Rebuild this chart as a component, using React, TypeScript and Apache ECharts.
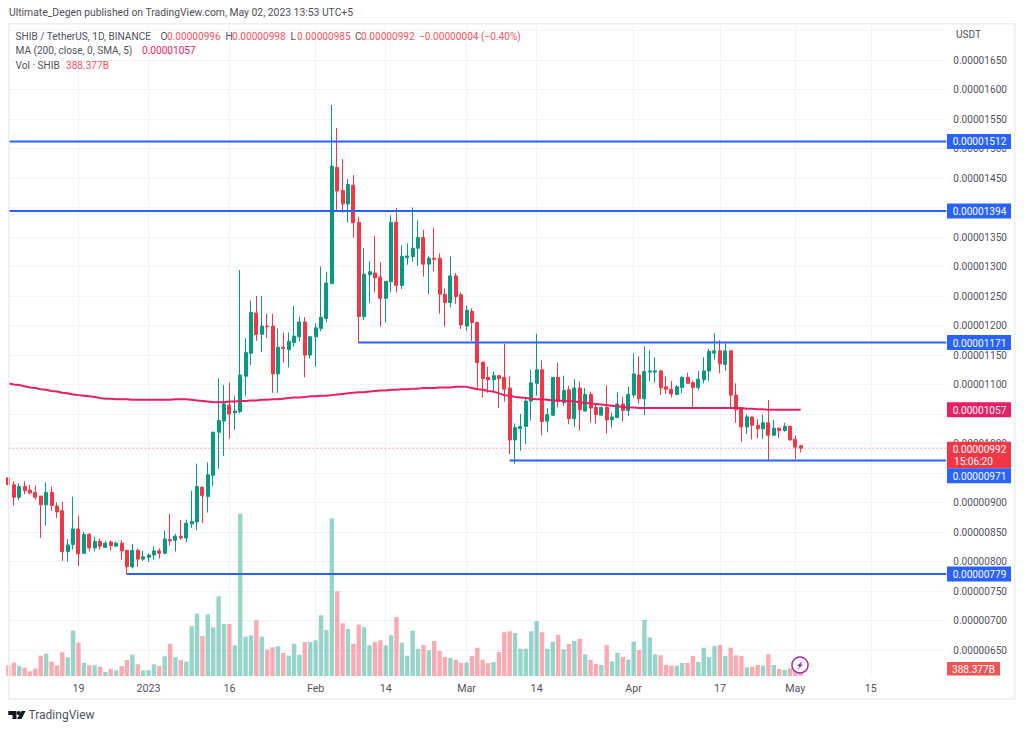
import React, { useEffect, useRef } from "react";
import * as echarts from "echarts";

const opens = [
  942,930,909,927,921,917,911,896,917,894,
  886,817,829,855,814,846,823,834,824,833,
  826,831,819,791,819,804,807,811,818,814,
  837,836,843,840,864,867,926,910,946,1019,
  1038,1065,1052,1054,1114,1153,1221,1185,1199,1199,
  1118,1163,1159,1171,1181,1206,1150,1181,1195,1212,
  1271,1468,1429,1406,1438,1375,1215,1286,1289,1282,
  1246,1274,1375,1268,1315,1317,1331,1349,1304,1314,
  1314,1253,1239,1284,1252,1199,1224,1205,1138,1112,
  1108,1115,1112,1094,1006,1025,1029,1072,1102,1125,
  1038,1048,1112,1069,1091,1042,1094,1055,1083,1061,
  1048,1061,1040,1044,1067,1056,1082,1116,1076,1121,
  1121,1123,1096,1092,1083,1095,1112,1103,1095,1108,
  1123,1153,1157,1134,1157,1082,1060,1028,1045,1031,
  1025,1035,1014,1026,1022,1029,1007,996,
];
const closes = [
  930,909,927,920,916,909,896,917,895,884,
  817,828,855,813,846,823,834,826,831,827,
  831,818,791,819,804,808,811,818,814,838,
  835,843,840,865,868,927,912,947,1019,1039,
  1067,1050,1055,1116,1154,1222,1185,1199,1198,1118,
  1163,1161,1173,1182,1206,1150,1181,1196,1214,1272,
  1470,1428,1406,1439,1374,1215,1287,1291,1281,1246,
  1275,1375,1268,1317,1318,1331,1349,1304,1314,1312,
  1253,1239,1284,1249,1201,1226,1205,1137,1110,1108,
  1115,1110,1092,1006,1027,1029,1072,1103,1125,1037,
  1049,1112,1071,1090,1042,1094,1057,1083,1060,1049,
  1061,1040,1045,1067,1056,1083,1118,1076,1122,1123,
  1123,1094,1092,1084,1096,1112,1102,1095,1109,1123,
  1156,1157,1135,1157,1082,1057,1028,1045,1031,1025,
  1035,1014,1026,1022,1029,1006,994,992,
];
const lows = [
  926,895,904,914,914,905,840,861,886,874,
  801,800,820,792,813,817,817,820,823,818,
  825,803,778,788,791,801,799,803,805,812,
  827,817,837,832,857,853,865,883,928,957,
  979,1008,1024,1051,1081,1133,1174,1155,1179,1086,
  1086,1137,1129,1164,1173,1112,1144,1130,1190,1205,
  1270,1393,1391,1375,1349,1170,1209,1238,1256,1198,
  1205,1257,1256,1262,1303,1308,1301,1283,1253,1292,
  1220,1198,1231,1237,1194,1191,1174,1091,1078,1086,
  1086,1060,1071,982,966,988,999,1039,1081,1014,
  1019,1047,1061,1064,1033,1028,1022,1054,1035,1034,
  1048,1017,1027,1043,1038,1047,1077,1068,1048,1106,
  1103,1082,1084,1078,1082,1085,1101,1060,1091,1102,
  1106,1142,1119,1123,1061,1035,1003,1016,1007,1009,
  1008,972,1013,1009,1020,1005,973,985,
];
const highs = [
  945,936,933,936,930,929,911,934,927,900,
  901,838,910,878,850,848,842,839,835,836,
  834,836,820,830,822,818,814,826,822,852,
  881,847,870,871,920,966,927,968,1020,1110,
  1099,1103,1081,1294,1178,1242,1250,1250,1220,1220,
  1195,1188,1188,1233,1215,1214,1181,1204,1300,1291,
  1574,1535,1482,1448,1455,1384,1331,1309,1352,1307,
  1275,1387,1399,1336,1339,1400,1378,1362,1318,1366,
  1322,1263,1317,1289,1256,1234,1229,1207,1138,1130,
  1122,1115,1169,1114,1034,1050,1079,1125,1186,1141,
  1060,1112,1137,1115,1098,1109,1105,1094,1088,1068,
  1063,1099,1052,1087,1079,1096,1153,1148,1164,1158,
  1146,1125,1114,1106,1099,1114,1120,1106,1123,1146,
  1160,1187,1175,1170,1157,1102,1060,1049,1045,1041,
  1049,1074,1040,1027,1035,1030,1014,998,
];
const volumes = [
  1070,1330,1000,830,470,730,2030,2230,1430,1070,
  2370,1870,4530,3330,1330,1070,1070,930,400,730,
  570,1000,1600,2130,1170,570,570,1170,1000,1970,
  3230,1870,1600,1430,4970,6230,4000,6170,4870,7970,
  5200,5200,3070,16230,3930,4070,5570,3930,2630,2870,
  2970,2300,2030,3230,2130,3400,3400,3570,6070,4600,
  15770,8470,5270,4700,3230,5130,4870,3070,3400,3570,
  3070,4070,5900,3330,2030,4530,2730,3100,2570,3500,
  2500,1900,1800,1630,1300,1370,2000,2830,1630,1300,
  1400,2400,4370,4470,4300,2730,2730,4470,5500,4370,
  2730,3430,4130,2670,3200,3500,3700,2170,1630,1200,
  1100,3100,1470,2330,1900,1630,3430,2600,5600,3870,
  2170,2070,1100,1030,1030,1300,1300,2000,1400,2830,
  1900,3000,3100,2000,2830,2070,2000,870,930,1100,
  1030,2170,1100,700,600,770,500,388,
];
const ma200 = [
  1102,1100,1099,1097,1095,1094,1092,1091,1089,1088,
  1086,1085,1083,1082,1081,1080,1079,1077,1076,1076,
  1075,1075,1075,1074,1074,1074,1074,1074,1074,1074,
  1074,1075,1075,1075,1074,1073,1072,1071,1070,1070,
  1070,1071,1071,1072,1072,1073,1073,1074,1074,1075,
  1075,1076,1077,1078,1078,1079,1080,1080,1081,1081,
  1082,1083,1084,1085,1086,1087,1087,1088,1089,1090,
  1090,1091,1091,1092,1092,1093,1093,1094,1094,1094,
  1095,1095,1095,1096,1096,1096,1094,1092,1091,1089,
  1088,1085,1082,1081,1079,1078,1077,1076,1075,1075,
  1074,1073,1073,1072,1072,1071,1070,1069,1068,1067,
  1066,1065,1064,1063,1062,1061,1061,1060,1060,1060,
  1060,1060,1060,1060,1060,1060,1060,1060,1060,1060,
  1060,1060,1060,1060,1060,1060,1060,1059,1059,1058,
  1058,1057,1057,1057,1057,1057,1057,1057,
];
// horizontal drawings: level (1e-8 USDT) and the candle they start from
const levelValues = [1512, 1394, 1171, 971, 779];
const levelStarts = [0, 0, 65, 93, 22];
const lastPrice = 992;
// tick values that the reference covers entirely with a price flag
const hiddenTickLabels = [1700, 1400, 1050, 950];
const tickIndexes = [13, 26, 41, 57, 70, 85, 98, 116, 132, 146, 160];
const tickLabels = ["19", "2023", "16", "Feb", "14", "Mar", "14", "Apr", "17", "May", "15"];
const categories = Array.from({ length: 175 }, (_, i) =>
  new Date(Date.UTC(2022, 11, 6 + i)).toISOString().slice(0, 10)
);

const FONT = 'Roboto, sans-serif';
const SIZE = 10.1;
const GREEN = "#089981";
const RED = "#f23645";
const BLUE = "#2962ff";
const TEXT = "#50535e";
const GRID = "#f0f3fa";
const FRAME = "#eceef5";

const txt = (x: number, y: number, text: string, fill: string, size = SIZE, align = "left") => ({
  type: "text",
  z: 110,
  silent: true,
  style: { x, y, text, fill, font: `${size}px ${FONT}`, textAlign: align, textVerticalAlign: "middle" },
});
const box = (x: number, y: number, width: number, height: number, fill: string) => ({
  type: "rect",
  z: 100,
  silent: true,
  shape: { x, y, width, height },
  style: { fill },
});

export default function App() {
  const ref = useRef<HTMLDivElement>(null);
  useEffect(() => {
    const chart = echarts.init(ref.current!, undefined, { renderer: "svg" });
    const grid = { left: 8.4, width: 937.86 };
    const levelSeries = levelValues.map((v, k) => ({
      type: "line",
      xAxisIndex: 0,
      yAxisIndex: 0,
      z: 6,
      showSymbol: false,
      silent: true,
      lineStyle: { color: BLUE, width: 2 },
      data: categories.map((_, i) => (i >= levelStarts[k] ? v : null)),
    }));
    chart.setOption({
      animation: false,
      backgroundColor: "#ffffff",
      textStyle: { fontFamily: FONT },
      grid: [
        { ...grid, top: 30.5, height: 619.5 },
        { ...grid, top: 476, height: 200 },
        { ...grid, top: 23, height: 652 },
      ],
      xAxis: [0, 1, 2].map((g) => ({
        type: "category",
        gridIndex: g,
        data: categories,
        boundaryGap: false,
        axisLine: { show: false },
        axisTick: { show: false },
        axisLabel:
          g === 2
            ? {
                show: true,
                color: TEXT,
                fontSize: SIZE + 0.6,
                fontFamily: FONT,
                margin: 8,
                hideOverlap: false,
                interval: (i: number) => tickIndexes.includes(i),
                formatter: (_: string, i: number) => tickLabels[tickIndexes.indexOf(i)] ?? "",
              }
            : { show: false },
        splitLine:
          g === 2
            ? {
                show: true,
                interval: (i: number) => tickIndexes.includes(i),
                lineStyle: { color: GRID, width: 1 },
              }
            : { show: false },
      })),
      yAxis: [
        {
          type: "value",
          gridIndex: 0,
          position: "right",
          min: 650,
          max: 1700,
          interval: 50,
          axisLine: { show: false },
          axisTick: { show: false },
          axisLabel: {
            color: TEXT,
            fontSize: SIZE,
            fontFamily: FONT,
            margin: 7,
            formatter: (v: number) =>
              hiddenTickLabels.includes(v) ? "" : "0." + String(v).padStart(8, "0"),
          },
          splitLine: { show: true, lineStyle: { color: GRID, width: 1 } },
        },
        { type: "value", gridIndex: 1, min: 0, max: 20000, show: false, splitLine: { show: false } },
        { type: "value", gridIndex: 2, min: 0, max: 1, show: false, splitLine: { show: false } },
      ],
      series: [
        {
          type: "bar",
          name: "Vol",
          xAxisIndex: 1,
          yAxisIndex: 1,
          barWidth: 4.4,
          silent: true,
          z: 1,
          data: volumes.map((v, i) => ({
            value: v,
            itemStyle: {
              color: closes[i] >= opens[i] ? "rgba(8,153,129,0.42)" : "rgba(242,54,69,0.42)",
            },
          })),
        },
        {
          type: "candlestick",
          name: "SHIB",
          xAxisIndex: 0,
          yAxisIndex: 0,
          barWidth: 3.5,
          z: 3,
          silent: true,
          itemStyle: {
            color: GREEN,
            color0: RED,
            borderColor: GREEN,
            borderColor0: RED,
            borderWidth: 1,
          },
          data: opens.map((o, i) => [o, closes[i], lows[i], highs[i]]),
        },
        {
          type: "line",
          name: "MA",
          xAxisIndex: 0,
          yAxisIndex: 0,
          z: 4,
          showSymbol: false,
          silent: true,
          lineStyle: { color: "#e91e63", width: 2 },
          data: ma200,
        },
        {
          type: "line",
          name: "Last",
          xAxisIndex: 0,
          yAxisIndex: 0,
          z: 2,
          showSymbol: false,
          silent: true,
          lineStyle: { color: "rgba(242,54,69,0.5)", width: 1, type: [2, 2] },
          data: categories.map(() => lastPrice),
        },
        ...levelSeries,
      ],
    });

    const y = (v: number) => chart.convertToPixel({ yAxisIndex: 0 }, v) as number;
    const priceText = (v: number) => "0." + String(v).padStart(8, "0");
    const flag = (v: number, color: string, at = y(v)) => [
      box(947, at - 7.5, 64, 15, color),
      txt(979.5, at + 0.5, priceText(v), "#ffffff", SIZE, "center"),
    ];
    const lastY = y(lastPrice);
    chart.setOption({
      graphic: [
        box(8, 23, 1.5, 677, FRAME),
        box(8, 23, 1007, 1.5, FRAME),
        box(1014, 23, 1.5, 677, FRAME),
        box(8, 698.5, 1007, 1.5, FRAME),
        txt(9, 12.5, "Ultimate_Degen published on TradingView.com, May 02, 2023 13:53 UTC+5", "#4e5058", 10.35),
        txt(15.5, 36, "SHIB / TetherUS, 1D, BINANCE", TEXT),
        txt(160.5, 36, "O", TEXT),
        txt(167, 36, "0.00000996", "#f7525f"),
        txt(225.5, 36, "H", TEXT),
        txt(232, 36, "0.00000998", "#f7525f"),
        txt(290.5, 36, "L", TEXT),
        txt(297, 36, "0.00000985", "#f7525f"),
        txt(355, 36, "C", TEXT),
        txt(361, 36, "0.00000992", "#f7525f"),
        txt(419, 36, "\u22120.00000004 (\u22120.40%)", "#f7525f"),
        txt(15.5, 50.5, "MA (200, close, 0, SMA, 5)", TEXT),
        txt(142, 50.5, "0.00001057", "#e91e63"),
        txt(15.5, 65, "Vol \u00b7 SHIB", TEXT),
        txt(66, 65, "388.377B", "#f7525f"),
        txt(956, 34.5, "USDT", TEXT),
        ...flag(1512, BLUE),
        ...flag(1394, BLUE),
        ...flag(1171, BLUE),
        ...flag(1057, "#e91e63"),
        box(947, lastY - 6.5, 64, 26.5, RED),
        txt(979.5, lastY + 1, priceText(lastPrice), "#ffffff", SIZE, "center"),
        txt(954, lastY + 13, "15:06:20", "#ffffff"),
        ...flag(971, BLUE, lastY + 27.5),
        ...flag(779, BLUE),
        box(947, 662, 53, 13.5, "#f05555"),
        txt(973.5, 669, "388.377B", "#ffffff", SIZE, "center"),
        {
          type: "circle",
          z: 100,
          silent: true,
          shape: { cx: 800, cy: 665, r: 8 },
          style: { fill: "#ffffff", stroke: "#9c27b0", lineWidth: 1.5 },
        },
        {
          type: "polygon",
          z: 101,
          silent: true,
          shape: { points: [[803, 660.5], [797, 666], [799.5, 666], [797.5, 669.5], [803, 664.5], [800.5, 664.5]] },
          style: { fill: "#9c27b0" },
        },
        {
          type: "polygon",
          z: 100,
          silent: true,
          shape: { points: [[8.3, 711], [16.5, 711], [16.5, 719], [12.5, 719], [12.5, 715], [8.3, 715]] },
          style: { fill: "#131722" },
        },
        { type: "circle", z: 100, silent: true, shape: { cx: 18.6, cy: 713, r: 2 }, style: { fill: "#131722" } },
        {
          type: "polygon",
          z: 100,
          silent: true,
          shape: { points: [[21.5, 711], [25.5, 711], [21.5, 719], [17, 719]] },
          style: { fill: "#131722" },
        },
        txt(28.5, 715, "TradingView", "#50535e", 12),
      ],
    });
    return () => chart.dispose();
  }, []);
  return (
    <div ref={ref} style={{ position: "absolute", left: 0, top: 0, width: 1024, height: 730 }} />
  );
}
